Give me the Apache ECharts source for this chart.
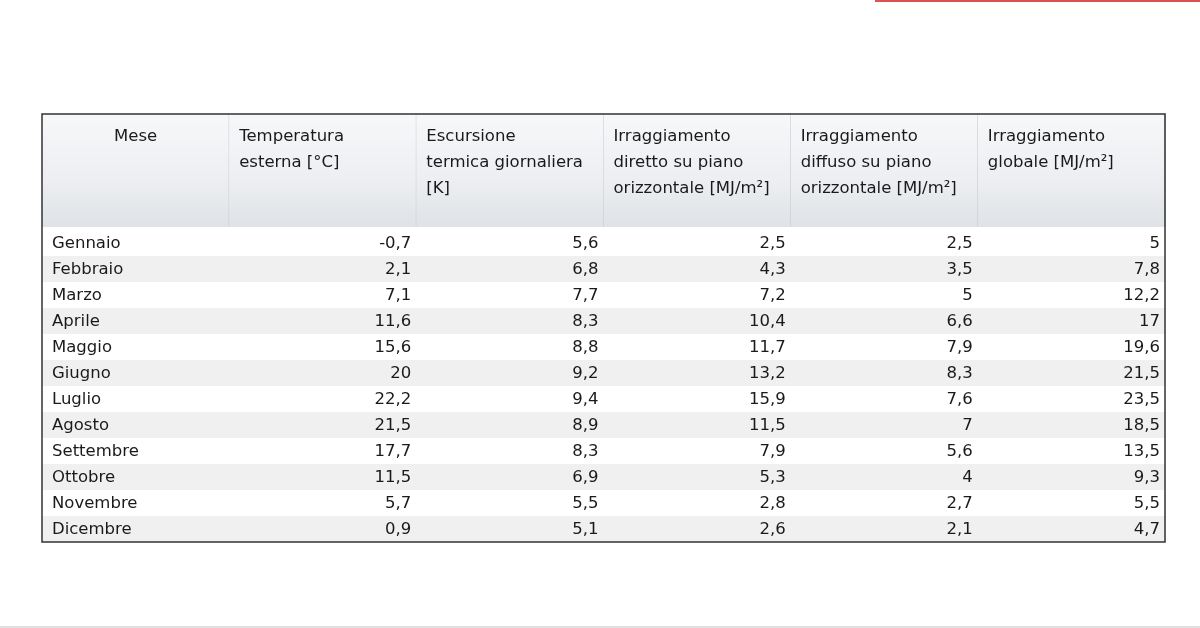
<!DOCTYPE html>
<html><head><meta charset="utf-8">
<script src="https://cdn.jsdelivr.net/npm/echarts@6/dist/echarts.min.js"></script>
<style>html,body{margin:0;background:#fff}#c{width:1200px;height:628px}</style>
</head><body><div id="c"></div>
<script>
const headers=["Mese","Temperatura\nesterna [°C]","Escursione\ntermica giornaliera\n[K]","Irraggiamento\ndiretto su piano\norizzontale [MJ/m²]","Irraggiamento\ndiffuso su piano\norizzontale [MJ/m²]","Irraggiamento\nglobale [MJ/m²]"];
const months=["Gennaio","Febbraio","Marzo","Aprile","Maggio","Giugno","Luglio","Agosto","Settembre","Ottobre","Novembre","Dicembre"];
const temperatura=["-0,7","2,1","7,1","11,6","15,6","20","22,2","21,5","17,7","11,5","5,7","0,9"];
const escursione=["5,6","6,8","7,7","8,3","8,8","9,2","9,4","8,9","8,3","6,9","5,5","5,1"];
const diretto=["2,5","4,3","7,2","10,4","11,7","13,2","15,9","11,5","7,9","5,3","2,8","2,6"];
const diffuso=["2,5","3,5","5","6,6","7,9","8,3","7,6","7","5,6","4","2,7","2,1"];
const globale=["5","7,8","12,2","17","19,6","21,5","23,5","18,5","13,5","9,3","5,5","4,7"];
const cols=[months,temperatura,escursione,diretto,diffuso,globale];
const cells=[];
months.forEach((m,r)=>cols.forEach((col,c)=>cells.push([c,r,col[r]])));
const heads=headers.map((h,c)=>[c,0,h]);
const chart=echarts.init(document.getElementById('c'));
const HEAD_H=117;
const FONT='16.5px "DejaVu Sans", Verdana, sans-serif';
chart.setOption({
 animation:false,
 grid:{left:42,top:230,width:1123,height:312},
 xAxis:{type:'category',data:headers,show:false},
 yAxis:{type:'category',data:months,inverse:true,show:false},
 graphic:[
  {type:'rect',shape:{x:875,y:0,width:325,height:2},style:{fill:'#d9534f'}},
  {type:'rect',shape:{x:0,y:626,width:1200,height:2},style:{fill:'#e0e0e0'}},
  {type:'rect',z:100,shape:{x:42,y:114,width:1123,height:428},style:{fill:'none',stroke:'#333',lineWidth:1.5}}
 ],
 series:[
  {type:'custom',data:cells,renderItem:(p,api)=>{
    const c=api.value(0),r=api.value(1);
    const pt=api.coord([c,r]),sz=api.size([1,1]);
    const x=pt[0]-sz[0]/2,y=pt[1]-sz[1]/2;
    const t=cols[c][r];
    return {type:'group',children:[
      {type:'rect',shape:{x:x,y:y,width:sz[0]+1,height:sz[1]},style:{fill:r%2?'#f0f0f0':'#ffffff'}},
      {type:'text',style:{text:t,x:c===0?x+10:x+sz[0]-5,y:pt[1]+1,textAlign:c===0?'left':'right',textVerticalAlign:'middle',fill:'#1a1a1a',font:FONT}}
    ]};
  }},
  {type:'custom',data:heads,renderItem:(p,api)=>{
    const c=api.value(0);
    const pt=api.coord([c,0]),sz=api.size([1,1]);
    const x=pt[0]-sz[0]/2,y=pt[1]-sz[1]/2-HEAD_H;
    return {type:'group',children:[
      {type:'rect',shape:{x:x,y:y,width:sz[0],height:HEAD_H-3},style:{fill:new echarts.graphic.LinearGradient(0,0,0,1,[{offset:0,color:'#f7f8fa'},{offset:0.6,color:'#eceef1'},{offset:1,color:'#dfe2e6'}])}},
      {type:'line',shape:{x1:x+sz[0],y1:y,x2:x+sz[0],y2:y+HEAD_H-3},style:{stroke:'#c4c8cd',lineWidth:1}},
      {type:'text',style:{text:headers[c],x:c===0?x+sz[0]/2:x+10,y:y+11,textAlign:c===0?'center':'left',textVerticalAlign:'top',fill:'#1a1a1a',font:FONT,lineHeight:26}}
    ]};
  }}
 ]
});
</script></body></html>
